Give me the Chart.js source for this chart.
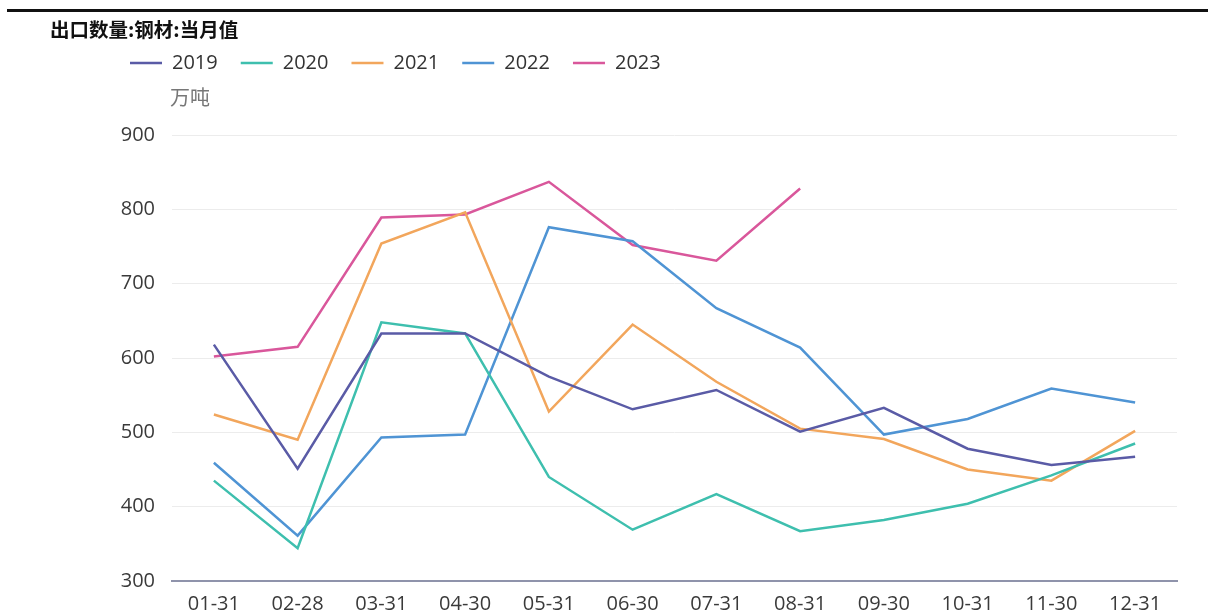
<!DOCTYPE html>
<html>
<head>
<meta charset="utf-8">
<script src="https://cdn.jsdelivr.net/npm/chart.js@4/dist/chart.umd.min.js"></script>
<style>
  html, body { margin: 0; padding: 0; background: #fff; }
  #wrap { position: relative; width: 1208px; height: 615px; overflow: hidden; }
  #topline { position: absolute; left: 7px; top: 9px; width: 1201px; height: 3px; background: #111; }
  #title { position: absolute; left: 50px; top: 14px; font-family: "Noto Sans CJK SC", sans-serif; font-weight: 700; font-size: 19.5px; color: #111; }
  #unit { position: absolute; left: 170px; top: 82px; font-family: "Noto Sans CJK SC", sans-serif; font-size: 20px; color: #777; }
  canvas { position: absolute; left: 0; top: 0; }
</style>
</head>
<body>
<div id="wrap">
  <canvas id="c" width="1208" height="615"></canvas>
  <div id="topline"></div>
  <div id="title">出口数量:钢材:当月值</div>
  <div id="unit">万吨</div>
</div>
<script>
const categories = ["01-31","02-28","03-31","04-30","05-31","06-30","07-31","08-31","09-30","10-31","11-30","12-31"];
const yTicks = [300, 400, 500, 600, 700, 800, 900];
const s2019 = [618, 451, 633, 633, 575, 531, 557, 501, 533, 478, 456, 467];
const s2020 = [435, 344, 648, 633, 440, 369, 417, 367, 382, 404, 442, 485];
const s2021 = [524, 490, 754, 796, 528, 645, 568, 505, 491, 450, 435, 502];
const s2022 = [459, 361, 493, 497, 776, 757, 667, 614, 497, 518, 559, 540];
const s2023 = [602, 615, 789, 793, 837, 752, 731, 828];
const seriesNames = ["2019", "2020", "2021", "2022", "2023"];
const seriesColors = ["#5a5ba6", "#3ebfae", "#f2a65c", "#4f94d4", "#d9579b"];
const seriesData = [s2019, s2020, s2021, s2022, s2023];

const legendHeightFix = {
  id: 'legendHeightFix',
  beforeInit(chart) {
    const origFit = chart.legend.fit;
    chart.legend.fit = function () {
      origFit.bind(chart.legend)();
      this.height = 105;
    };
  }
};

new Chart(document.getElementById('c'), {
  type: 'line',
  data: {
    labels: categories,
    datasets: seriesNames.map((n, i) => ({
      label: n,
      data: seriesData[i],
      borderColor: seriesColors[i],
      backgroundColor: seriesColors[i],
      borderWidth: 2.5,
      pointRadius: 0,
      tension: 0,
      fill: false
    }))
  },
  plugins: [legendHeightFix],
  options: {
    responsive: false,
    animation: false,
    devicePixelRatio: 1,
    layout: { padding: { left: 107, right: 31, top: 30, bottom: 0 } },
    plugins: {
      legend: {
        position: 'top',
        align: 'start',
        labels: {
          boxWidth: 32,
          boxHeight: 0,
          padding: 23,
          color: '#333',
          font: { family: 'Open Sans', size: 20 }
        }
      },
      tooltip: { enabled: false }
    },
    scales: {
      x: {
        offset: true,
        grid: { display: false },
        border: { color: '#8f93ab', width: 2 },
        ticks: { color: '#3a3a3a', font: { family: 'Open Sans', size: 20 }, padding: 3, maxRotation: 0 },
        afterFit(scale) { scale.height = 34; }
      },
      y: {
        min: 300,
        max: 900,
        afterBuildTicks(scale) { scale.ticks = yTicks.map(v => ({ value: v })); },
        grid: { color: '#ececec', lineWidth: 1, drawTicks: false },
        border: { display: false },
        ticks: { color: '#3a3a3a', font: { family: 'Open Sans', size: 20 }, padding: 17 },
        afterFit(scale) { scale.width = 65; }
      }
    }
  }
});
</script>
</body>
</html>
